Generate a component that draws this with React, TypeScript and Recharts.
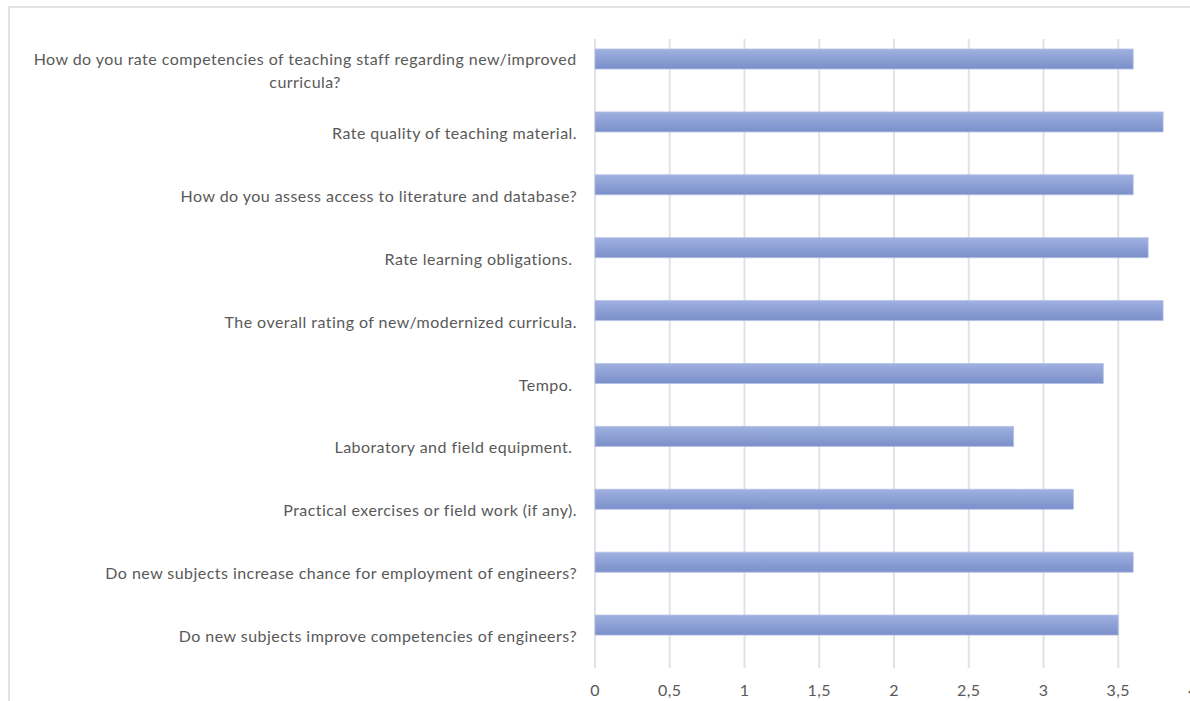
import { Bar, BarChart, CartesianGrid, XAxis, YAxis } from 'recharts';

const questions = [
  'How do you rate competencies of teaching staff regarding new/improved curricula?',
  'Rate quality of teaching material.',
  'How do you assess access to literature and database?',
  'Rate learning obligations. ',
  'The overall rating of new/modernized curricula.',
  'Tempo. ',
  'Laboratory and field equipment. ',
  'Practical exercises or field work (if any).',
  'Do new subjects increase chance for employment of engineers?',
  'Do new subjects improve competencies of engineers?',
];

const ratings = [3.6, 3.8, 3.6, 3.7, 3.8, 3.4, 2.8, 3.2, 3.6, 3.5];

const xTicks = [0, 0.5, 1, 1.5, 2, 2.5, 3, 3.5, 4];

const FONT = 'Lato, Calibri, sans-serif';
const TEXT = '#595959';
const SIZE = 16;
const SPACING = 0.45;

const data = questions.map((q, i) => ({ question: q, rating: ratings[i], blank: null }));

let ctx: CanvasRenderingContext2D | null = null;
function measure(s: string) {
  if (!ctx) ctx = document.createElement('canvas').getContext('2d');
  if (!ctx) return s.length * 8;
  ctx.font = `${SIZE}px ${FONT}`;
  return ctx.measureText(s).width + s.length * SPACING;
}

// Excel wraps long labels and centres the lines on each other
function wrap(s: string, max = 70) {
  const words = s.split(' ');
  const lines: string[] = [];
  let cur = '';
  for (const w of words) {
    if ((cur + ' ' + w).trim().length > max) {
      lines.push(cur);
      cur = w;
    } else {
      cur = (cur + ' ' + w).trim();
    }
  }
  if (cur) lines.push(cur);
  return lines;
}

function QuestionTick(props: any) {
  const { x, y, payload } = props;
  const lines = wrap(String(payload.value));
  const textProps = { fill: TEXT, fontSize: SIZE, fontFamily: FONT, letterSpacing: SPACING };
  if (lines.length === 1) {
    return (
      <text x={x} y={y} dy="0.35em" textAnchor="end" {...textProps} style={{ whiteSpace: 'pre' }}>
        {payload.value}
      </text>
    );
  }
  const widest = Math.max(...lines.map(measure));
  const cx = x - widest / 2;
  const lh = 23;
  const start = y - ((lines.length - 1) * lh) / 2;
  return (
    <g>
      {lines.map((l, i) => (
        <text key={i} x={cx} y={start + i * lh} dy="0.35em" textAnchor="middle" {...textProps}>
          {l}
        </text>
      ))}
    </g>
  );
}

export default function App() {
  return (
    <div style={{ position: 'fixed', left: 0, top: 0, width: 1190, height: 701, background: '#fff', overflow: 'hidden' }}>
      <div
        style={{
          position: 'absolute',
          left: 8,
          top: 6,
          width: 1400,
          height: 900,
          borderLeft: '2px solid #e0e2e6',
          borderTop: '2px solid #e0e2e6',
        }}
      />
      <div style={{ position: 'absolute', left: 0, top: 0 }}>
        <BarChart
          width={1200}
          height={701}
          data={data}
          layout="vertical"
          margin={{ top: 39, right: 7, left: 0, bottom: 0 }}
          barSize={20}
          barGap={2}
        >
          <defs>
            <linearGradient id="barFill" x1="0" y1="0" x2="0" y2="1">
              <stop offset="0%" stopColor="#a0b1e0" />
              <stop offset="100%" stopColor="#7a8fca" />
            </linearGradient>
          </defs>
          <CartesianGrid horizontal={false} stroke="#dfe2e8" strokeWidth={2} verticalValues={xTicks} />
          <XAxis
            type="number"
            domain={[0, 4]}
            ticks={xTicks}
            height={33}
            axisLine={false}
            tickLine={false}
            tickSize={6}
            tickMargin={11}
            tick={{ fill: TEXT, fontSize: SIZE, fontFamily: FONT, letterSpacing: SPACING }}
            tickFormatter={(v: number) => String(v).replace('.', ',')}
          />
          <YAxis
            type="category"
            dataKey="question"
            width={595}
            axisLine={false}
            tickLine={false}
            tickSize={0}
            tickMargin={18}
            interval={0}
            tick={<QuestionTick />}
          />
          <Bar dataKey="rating" fill="url(#barFill)" stroke="#b4bfe3" strokeWidth={0.8} isAnimationActive={false} />
          <Bar dataKey="blank" fill="#ffffff" isAnimationActive={false} />
        </BarChart>
      </div>
    </div>
  );
}
